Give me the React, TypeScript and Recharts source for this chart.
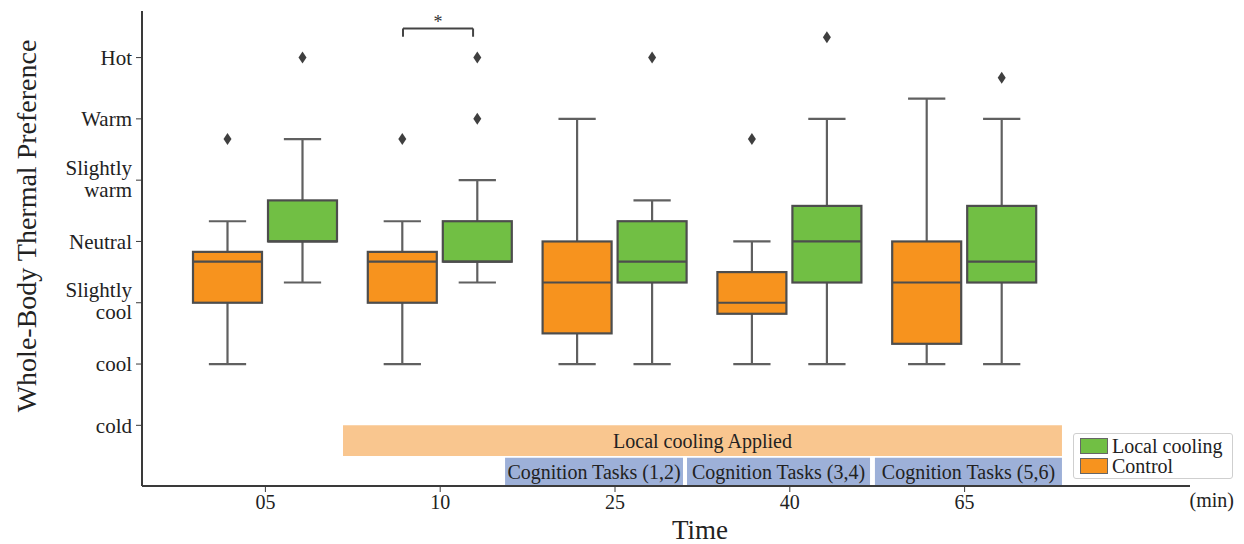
import { Bar, ComposedChart, ReferenceArea, ReferenceDot, ReferenceLine, XAxis, YAxis } from "recharts";

document.body.style.margin = "0";

const FONT = '"Liberation Serif", "Times New Roman", serif';
const INK = "#222";
const AXIS = "#3a3a3a";
const BOX_EDGE = "#4d4d4d";
const WHISKER = "#606060";
const CONTROL_COLOR = "#F7931E";
const COOLING_COLOR = "#71BF44";

const times = ["05", "10", "25", "40", "65"];
const yTickValues = [-3, -2, -1, 0, 1, 2, 3];
const yTickLabels = ["cold", "cool", "Slightly\ncool", "Neutral", "Slightly\nwarm", "Warm", "Hot"];

// Control
const controlMin = [-2, -2, -2, -2, -2];
const controlQ1 = [-1, -1, -1.5, -1.18, -1.67];
const controlMedian = [-0.33, -0.33, -0.67, -1, -0.67];
const controlQ3 = [-0.17, -0.17, 0, -0.5, 0];
const controlMax = [0.33, 0.33, 2, 0, 2.33];
const controlOutliers = [[1.67], [1.67], [], [1.67], []];

// Local cooling
const coolingMin = [-0.67, -0.67, -2, -2, -2];
const coolingQ1 = [0, -0.33, -0.67, -0.67, -0.67];
const coolingMedian = [0, -0.33, -0.33, 0, -0.33];
const coolingQ3 = [0.67, 0.33, 0.33, 0.58, 0.58];
const coolingMax = [1.67, 1, 0.67, 2, 2];
const coolingOutliers = [[3], [3, 2], [3], [3.33], [2.67]];

// annotation spans, in category-index units on the hidden position axis
const coolingSpan = [0.444, 4.557];
const taskSpans = [
  [1.371, 2.389],
  [2.412, 3.459],
  [3.487, 4.557],
];
const taskLabels = ["Cognition Tasks (1,2)", "Cognition Tasks (3,4)", "Cognition Tasks (5,6)"];
const sigBracket = [0.787, 1.188];

type Stats = { min: number; q1: number; median: number; q3: number; max: number; outliers: number[] };

const rows = times.map((time, i) => ({
  time,
  pos: i,
  control: {
    min: controlMin[i],
    q1: controlQ1[i],
    median: controlMedian[i],
    q3: controlQ3[i],
    max: controlMax[i],
    outliers: controlOutliers[i],
  },
  cooling: {
    min: coolingMin[i],
    q1: coolingQ1[i],
    median: coolingMedian[i],
    q3: coolingQ3[i],
    max: coolingMax[i],
    outliers: coolingOutliers[i],
  },
}));

function BoxShape(props: any) {
  const { x, y, width, height, payload, group, color } = props;
  const s: Stats = payload[group];
  const top = Math.min(y, y + height);
  const h = Math.abs(height);
  const px = h / (s.max - s.min);
  const toY = (v: number) => top + (s.max - v) * px;
  const cx = x + width / 2;
  const cap = width * 0.27;
  return (
    <g>
      <line x1={cx} x2={cx} y1={toY(s.max)} y2={toY(s.q3)} stroke={WHISKER} strokeWidth={2.2} />
      <line x1={cx} x2={cx} y1={toY(s.q1)} y2={toY(s.min)} stroke={WHISKER} strokeWidth={2.2} />
      <line x1={cx - cap} x2={cx + cap} y1={toY(s.max)} y2={toY(s.max)} stroke={WHISKER} strokeWidth={2.2} />
      <line x1={cx - cap} x2={cx + cap} y1={toY(s.min)} y2={toY(s.min)} stroke={WHISKER} strokeWidth={2.2} />
      <rect
        x={x}
        y={toY(s.q3)}
        width={width}
        height={toY(s.q1) - toY(s.q3)}
        fill={color}
        stroke={BOX_EDGE}
        strokeWidth={2.2}
      />
      <line x1={x} x2={x + width} y1={toY(s.median)} y2={toY(s.median)} stroke={BOX_EDGE} strokeWidth={2.2} />
      {s.outliers.map((v, k) => {
        const oy = toY(v);
        return <path key={k} d={`M${cx},${oy - 6}L${cx + 4},${oy}L${cx},${oy + 6}L${cx - 4},${oy}Z`} fill="#3f3f3f" />;
      })}
    </g>
  );
}

function YTick(props: any) {
  const { x, y, payload } = props;
  const idx = yTickValues.indexOf(payload.value);
  const lines = (yTickLabels[idx] ?? "").split("\n");
  const style = { fontFamily: FONT, fontSize: 21, fill: INK };
  if (lines.length === 1) {
    return (
      <text x={x} y={y} dy="0.35em" textAnchor="end" style={style}>
        {lines[0]}
      </text>
    );
  }
  return (
    <g>
      <text x={x} y={y - 13} dy="0.35em" textAnchor="end" style={style}>
        {lines[0]}
      </text>
      <text x={x} y={y + 9} dy="0.35em" textAnchor="end" style={style}>
        {lines[1]}
      </text>
    </g>
  );
}

const bannerLabel = (value: string) => ({
  value,
  position: "center" as const,
  fill: INK,
  fontSize: 20,
  fontFamily: FONT,
});

export default function App() {
  return (
    <div style={{ position: "relative", width: 1244, height: 544, fontFamily: FONT, color: INK }}>
      <ComposedChart
        width={1244}
        height={544}
        data={rows}
        margin={{ top: 11, right: 54, bottom: 0, left: 0 }}
        barGap={6}
      >
        <XAxis
          dataKey="time"
          padding={{ left: 36, right: 138 }}
          height={58}
          axisLine={{ stroke: AXIS, strokeWidth: 2 }}
          tickLine={{ stroke: AXIS }}
          tickSize={6}
          tickMargin={3}
          tick={{ fontSize: 20, fill: INK, fontFamily: FONT }}
        />
        <XAxis xAxisId="pos" dataKey="pos" type="number" domain={[-0.706, 5.2895]} allowDataOverflow hide />
        <YAxis
          type="number"
          domain={[-3.99, 3.76]}
          allowDataOverflow
          ticks={yTickValues}
          width={142}
          axisLine={{ stroke: AXIS, strokeWidth: 2 }}
          tickLine={{ stroke: AXIS }}
          tickSize={6}
          tickMargin={4}
          tick={<YTick />}
        />
        <ReferenceArea
          xAxisId="pos"
          x1={coolingSpan[0]}
          x2={coolingSpan[1]}
          y1={-3.5}
          y2={-3.0}
          fill="#F9C68F"
          fillOpacity={1}
          stroke="none"
          label={bannerLabel("Local cooling Applied")}
        />
        {taskSpans.map((span, i) => (
          <ReferenceArea
            key={taskLabels[i]}
            xAxisId="pos"
            x1={span[0]}
            x2={span[1]}
            y1={-3.98}
            y2={-3.53}
            fill="#9DB0D8"
            fillOpacity={1}
            stroke="none"
            label={bannerLabel(taskLabels[i])}
          />
        ))}
        <Bar
          dataKey={(d: any) => [d.control.min, d.control.max]}
          barSize={69}
          isAnimationActive={false}
          shape={(p: any) => <BoxShape {...p} group="control" color={CONTROL_COLOR} />}
        />
        <Bar
          dataKey={(d: any) => [d.cooling.min, d.cooling.max]}
          barSize={69}
          isAnimationActive={false}
          shape={(p: any) => <BoxShape {...p} group="cooling" color={COOLING_COLOR} />}
        />
        <ReferenceLine
          xAxisId="pos"
          segment={[
            { x: sigBracket[0], y: 3.475 },
            { x: sigBracket[1], y: 3.475 },
          ]}
          stroke="#444"
          strokeWidth={2}
        />
        <ReferenceLine
          xAxisId="pos"
          segment={[
            { x: sigBracket[0], y: 3.475 },
            { x: sigBracket[0], y: 3.34 },
          ]}
          stroke="#444"
          strokeWidth={2}
        />
        <ReferenceLine
          xAxisId="pos"
          segment={[
            { x: sigBracket[1], y: 3.475 },
            { x: sigBracket[1], y: 3.34 },
          ]}
          stroke="#444"
          strokeWidth={2}
        />
        <ReferenceDot
          xAxisId="pos"
          x={(sigBracket[0] + sigBracket[1]) / 2}
          y={3.58}
          r={0}
          stroke="none"
          label={{ value: "*", position: "center", fill: "#333", fontSize: 18, fontFamily: FONT }}
        />
      </ComposedChart>

      <div
        style={{
          position: "absolute",
          left: 27,
          top: 226,
          transform: "translate(-50%, -50%) rotate(-90deg)",
          whiteSpace: "nowrap",
          fontSize: 28,
        }}
      >
        Whole-Body Thermal Preference
      </div>
      <div style={{ position: "absolute", left: 700, top: 530, transform: "translate(-50%, -50%)", fontSize: 27 }}>
        Time
      </div>
      <div style={{ position: "absolute", left: 1234, top: 500, transform: "translate(-100%, -50%)", fontSize: 20 }}>
        (min)
      </div>
      <div
        style={{
          position: "absolute",
          left: 1073,
          top: 433,
          width: 160,
          height: 46,
          boxSizing: "border-box",
          border: "1.5px solid #cfcfcf",
          borderRadius: 3,
          background: "#fff",
          padding: "2px 0 0 6px",
          fontSize: 20,
          lineHeight: "20px",
          whiteSpace: "nowrap",
        }}
      >
        {[
          { name: "Local cooling", color: COOLING_COLOR },
          { name: "Control", color: CONTROL_COLOR },
        ].map((item) => (
          <div key={item.name} style={{ display: "flex", alignItems: "center", height: 20 }}>
            <span
              style={{
                display: "inline-block",
                flex: "none",
                width: 26,
                height: 14,
                background: item.color,
                border: "1.5px solid #666",
                marginRight: 4,
              }}
            />
            <span style={{ lineHeight: "20px" }}>{item.name}</span>
          </div>
        ))}
      </div>
    </div>
  );
}
